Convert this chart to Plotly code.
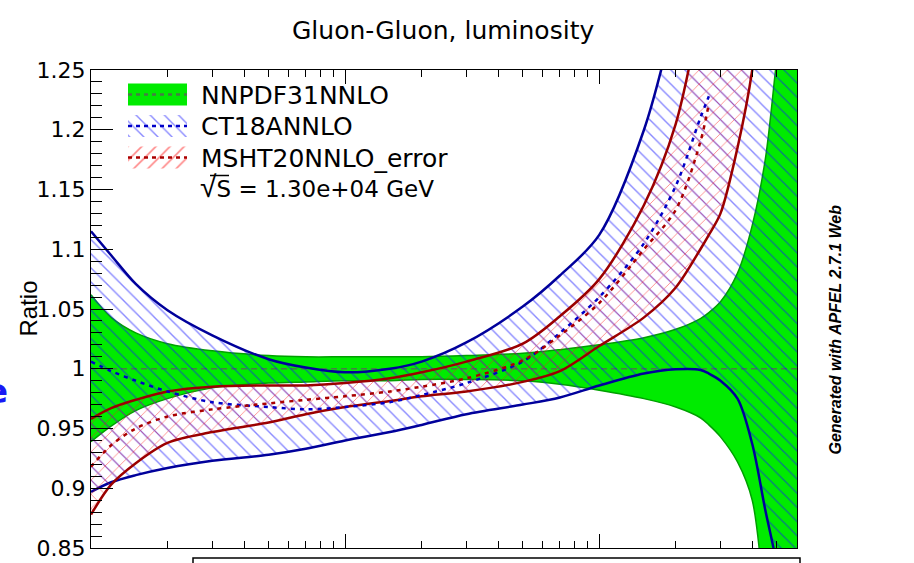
import plotly.graph_objects as go

# Invariant mass grid M_X (GeV)
mx = [10, 12, 15, 20, 30, 50, 70, 100, 150, 200, 300, 500, 700, 1000,
      1500, 2000, 2500, 2700, 3000, 3500, 4000, 4500, 5000, 6000]

# NNPDF31NNLO (reference set): central value and 1-sigma band
nnpdf_c = [1.000, 1.000, 1.000, 1.000, 1.000, 1.000, 1.000, 1.000, 1.000, 1.000, 1.000, 1.000,
           1.000, 1.000, 1.000, 1.000, 1.000, 1.000, 1.000, 1.000, 1.000, 1.000, 1.000, 1.000]
nnpdf_up = [1.062, 1.043, 1.030, 1.021, 1.015, 1.011, 1.010, 1.010, 1.010, 1.010, 1.011, 1.013,
            1.016, 1.020, 1.026, 1.033, 1.042, 1.047, 1.056, 1.080, 1.120, 1.175, 1.260, 1.400]
nnpdf_lo = [0.939, 0.952, 0.965, 0.975, 0.984, 0.988, 0.989, 0.990, 0.990, 0.991, 0.991, 0.990,
            0.987, 0.982, 0.975, 0.968, 0.959, 0.953, 0.943, 0.922, 0.890, 0.800, 0.720, 0.600]

# CT18ANNLO
ct18_c = [1.006, 0.998, 0.990, 0.981, 0.972, 0.968, 0.966, 0.968, 0.972, 0.978, 0.988, 1.006,
          1.030, 1.060, 1.105, 1.153, 1.210, 1.228, None, None, None, None, None, None]
ct18_up = [1.115, 1.095, 1.071, 1.049, 1.028, 1.008, 1.001, 0.997, 1.000, 1.006, 1.022, 1.052,
           1.078, 1.112, 1.200, 1.300, 1.400, 1.440, 1.500, 1.600, 1.700, 1.800, 1.900, 2.000]
ct18_lo = [0.897, 0.905, 0.911, 0.917, 0.923, 0.928, 0.933, 0.940, 0.947, 0.953, 0.962, 0.970,
           0.976, 0.986, 0.996, 0.9995, 0.999, 0.996, 0.990, 0.975, 0.937, 0.882, 0.835, 0.700]

# MSHT20NNLO_error
msht_c = [0.918, 0.936, 0.950, 0.960, 0.966, 0.971, 0.974, 0.977, 0.981, 0.985, 0.992, 1.007,
          1.028, 1.055, 1.100, 1.133, 1.190, 1.222, None, None, None, None, None, None]
msht_up = [0.958, 0.967, 0.974, 0.981, 0.985, 0.986, 0.986, 0.988, 0.992, 0.997, 1.006, 1.021,
           1.044, 1.075, 1.137, 1.205, 1.300, 1.340, 1.400, 1.500, 1.600, 1.700, 1.800, 2.000]
msht_lo = [0.878, 0.903, 0.921, 0.938, 0.947, 0.955, 0.962, 0.968, 0.973, 0.977, 0.981, 0.989,
           0.998, 1.019, 1.043, 1.068, 1.100, 1.112, 1.130, 1.185, 1.250, 1.350, 1.450, 1.600]

legend_labels = ["NNPDF31NNLO", "CT18ANNLO", "MSHT20NNLO_error"]
energy_label = "S = 1.30e+04 GeV"
y_tick_vals = [0.85, 0.90, 0.95, 1.00, 1.05, 1.10, 1.15, 1.20, 1.25]
y_tick_text = ["0.85", "0.9", "0.95", "1", "1.05", "1.1", "1.15", "1.2", "1.25"]

# colours
GREEN_FILL = "rgb(0,235,0)"
GREEN_EDGE = "rgb(0,160,0)"
GREEN_MID = "rgb(70,125,70)"
BLUE_EDGE = "rgb(0,0,155)"
BLUE_HATCH = "rgb(20,20,255)"
BLUE_MID = "rgb(0,0,200)"
RED_EDGE = "rgb(155,0,0)"
RED_HATCH = "rgb(255,20,20)"
RED_MID = "rgb(170,0,0)"
HATCH_SIZE = 10

# frame geometry in pixels (figure is 914 x 563)
W, H = 914, 563
L, R, T, B = 91, 797, 70, 548


def px_x(p):
    return (p - L) / (R - L)


def px_y(p):
    return (B - p) / (B - T)


def hatch(shape, color, solidity=0.14):
    return dict(shape=shape, fgcolor=color, size=HATCH_SIZE, solidity=solidity)


fig = go.Figure()
spl = dict(shape="spline", smoothing=0.9)

# NNPDF band (solid green)
fig.add_trace(go.Scatter(x=mx, y=nnpdf_lo, mode="lines",
                         line=dict(color=GREEN_EDGE, width=1.5, **spl),
                         showlegend=False, hoverinfo="skip"))
fig.add_trace(go.Scatter(x=mx, y=nnpdf_up, mode="lines", fill="tonexty",
                         fillcolor=GREEN_FILL,
                         line=dict(color=GREEN_EDGE, width=1.5, **spl),
                         showlegend=False, hoverinfo="skip"))
fig.add_trace(go.Scatter(x=mx, y=nnpdf_c, mode="lines",
                         line=dict(color=GREEN_MID, width=1.5, dash="6px,4px"),
                         showlegend=False, hoverinfo="skip"))

# CT18 band (blue \\\ hatch)
fig.add_trace(go.Scatter(x=mx, y=ct18_lo, mode="lines",
                         line=dict(color=BLUE_EDGE, width=2.5, **spl),
                         showlegend=False, hoverinfo="skip"))
fig.add_trace(go.Scatter(x=mx, y=ct18_up, mode="lines", fill="tonexty",
                         fillcolor="rgba(0,0,0,0)", fillpattern=hatch("\\", BLUE_HATCH),
                         line=dict(color=BLUE_EDGE, width=2.5, **spl),
                         showlegend=False, hoverinfo="skip"))

# MSHT20 band (red cross hatch)
fig.add_trace(go.Scatter(x=mx, y=msht_lo, mode="lines",
                         line=dict(color=RED_EDGE, width=2.5, **spl),
                         showlegend=False, hoverinfo="skip"))
fig.add_trace(go.Scatter(x=mx, y=msht_up, mode="lines", fill="tonexty",
                         fillcolor="rgba(0,0,0,0)", fillpattern=hatch("x", RED_HATCH, 0.17),
                         line=dict(color=RED_EDGE, width=2.5, **spl),
                         showlegend=False, hoverinfo="skip"))

# central values
fig.add_trace(go.Scatter(x=mx, y=ct18_c, mode="lines",
                         line=dict(color=BLUE_MID, width=2.5, dash="4px,5px", **spl),
                         showlegend=False, hoverinfo="skip"))
fig.add_trace(go.Scatter(x=mx, y=msht_c, mode="lines",
                         line=dict(color=RED_MID, width=2.5, dash="4px,5px", **spl),
                         showlegend=False, hoverinfo="skip"))

# ---- legend box, drawn on a pixel-unit helper axis over the frame ----
sw_x0, sw_x1 = 128, 187
row_y = [94.5, 126.0, 157.5]
half_h = 11
sw_styles = [
    dict(fill=GREEN_FILL, pattern=None, mid=GREEN_MID),
    dict(fill="rgba(0,0,0,0)", pattern=hatch("\\", BLUE_HATCH), mid=BLUE_MID),
    dict(fill="rgba(0,0,0,0)", pattern=hatch("/", RED_HATCH, 0.17), mid=RED_MID),
]
for yc, st in zip(row_y, sw_styles):
    kw = dict(fillpattern=st["pattern"]) if st["pattern"] else {}
    fig.add_trace(go.Scatter(
        x=[sw_x0, sw_x1, sw_x1, sw_x0, sw_x0],
        y=[yc - half_h, yc - half_h, yc + half_h, yc + half_h, yc - half_h],
        mode="lines", fill="toself", fillcolor=st["fill"], line=dict(width=0),
        xaxis="x2", yaxis="y2", showlegend=False, hoverinfo="skip", **kw))
    fig.add_trace(go.Scatter(
        x=[sw_x0, sw_x1], y=[yc, yc], mode="lines",
        line=dict(color=st["mid"], width=2.5, dash="4px,4px"),
        xaxis="x2", yaxis="y2", showlegend=False, hoverinfo="skip"))

FONT = "DejaVu Sans"
annotations = []
for yc, lab in zip(row_y, legend_labels):
    annotations.append(dict(text=lab, x=px_x(199), y=px_y(yc + 1), xref="paper", yref="paper",
                            xanchor="left", yanchor="middle", showarrow=False,
                            font=dict(family=FONT, size=25, color="black")))
# sqrt(S) line
annotations.append(dict(
    text='<span style="font-family:Liberation Sans;font-size:30px">√</span>' + energy_label,
    x=px_x(198), y=px_y(186.5), xref="paper", yref="paper",
    xanchor="left", yanchor="middle", showarrow=False,
    font=dict(family=FONT, size=23, color="black")))

annotations += [
    dict(text="Gluon-Gluon, luminosity", x=px_x(443), y=px_y(30), xref="paper", yref="paper",
         xanchor="center", yanchor="middle", showarrow=False,
         font=dict(family=FONT, size=25, color="black")),
    dict(text="Ratio", x=px_x(28), y=px_y(308.5), xref="paper", yref="paper",
         xanchor="center", yanchor="middle", textangle=-90, showarrow=False,
         font=dict(family="Liberation Sans", size=24, color="black")),
    dict(text="<b><i>Generated with APFEL 2.7.1 Web</i></b>", x=px_x(835), y=px_y(329.5),
         xref="paper", yref="paper", xanchor="center", yanchor="middle", textangle=-90,
         showarrow=False, font=dict(family="Liberation Sans", size=16, color="black")),
    dict(text="<b>e</b>", x=px_x(10), y=px_y(391), xref="paper", yref="paper",
         xanchor="right", yanchor="middle", showarrow=False,
         font=dict(family=FONT, size=34, color="rgb(25,25,245)")),
]

shapes = [
    # bar over S in the sqrt
    dict(type="line", xref="paper", yref="paper", x0=px_x(210), x1=px_x(229),
         y0=px_y(175.5), y1=px_y(175.5), line=dict(color="black", width=1.5)),
    # box partly visible below the frame
    dict(type="rect", xref="paper", yref="paper", x0=px_x(193), x1=px_x(800),
         y0=px_y(558), y1=px_y(620), line=dict(color="black", width=1.5)),
]

axis_common = dict(showgrid=False, zeroline=False, showline=True, linecolor="black",
                   linewidth=1.2, ticks="inside", tickcolor="black", tickwidth=1.2)

fig.update_layout(
    width=W, height=H,
    margin=dict(l=L, r=W - R, t=T, b=H - B, autoexpand=False),
    paper_bgcolor="white", plot_bgcolor="white",
    showlegend=False,
    xaxis=dict(type="log", range=[1, 3.77815], mirror="ticks", ticklen=14,
               tickvals=[10, 100, 1000], showticklabels=False,
               minor=dict(ticks="inside", ticklen=7, dtick="D1", tickcolor="black",
                          tickwidth=1.2, showgrid=False),
               **axis_common),
    yaxis=dict(range=[0.85, 1.25], mirror=True, ticklen=22,
               tickvals=y_tick_vals, ticktext=y_tick_text,
               tickfont=dict(family=FONT, size=22, color="black"),
               minor=dict(ticks="inside", ticklen=11, dtick=0.01, tick0=0.85,
                          tickcolor="black", tickwidth=1.2, showgrid=False),
               **axis_common),
    xaxis2=dict(range=[L, R], overlaying="x", visible=False, anchor="y2"),
    yaxis2=dict(range=[B, T], overlaying="y", visible=False, anchor="x2"),
    annotations=annotations,
    shapes=shapes,
)

fig.write_html("out.html")
